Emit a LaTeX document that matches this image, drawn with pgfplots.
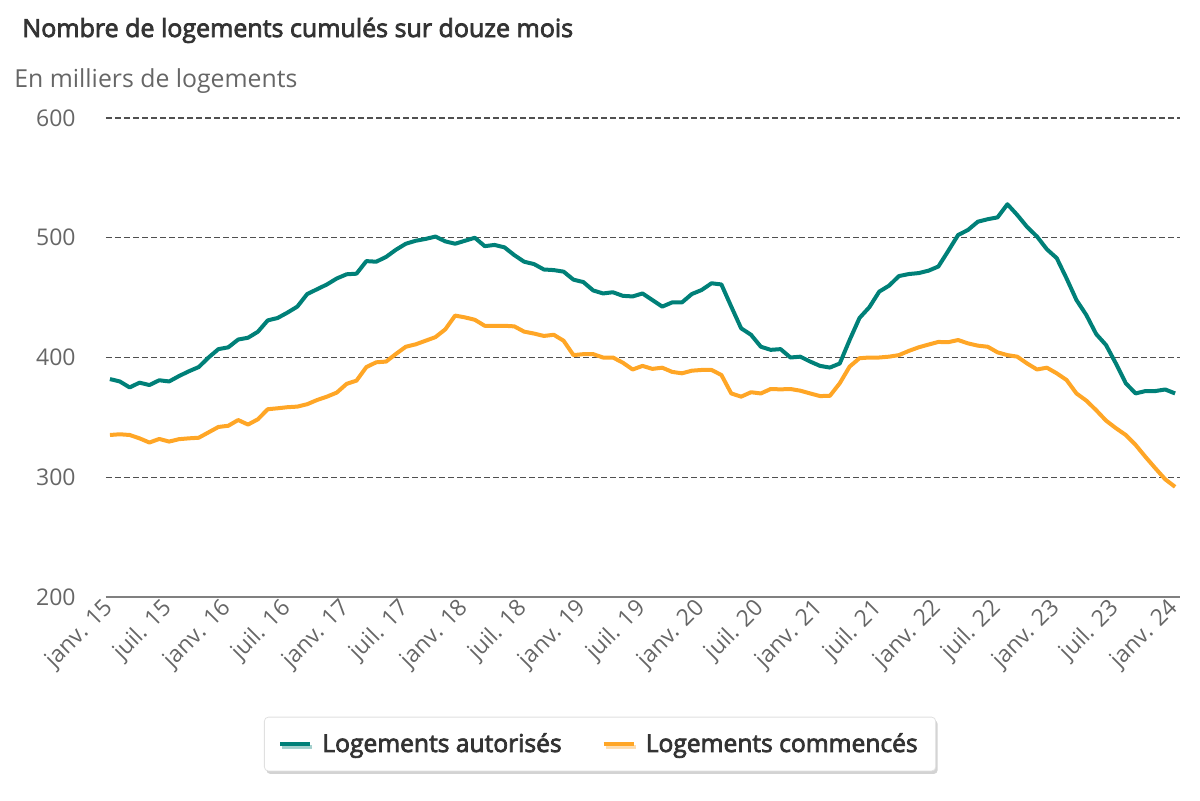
\documentclass[border=0pt]{standalone}
\usepackage{fontspec}
\setmainfont{Open Sans}
\newfontfamily\semib[FakeBold=3]{Open Sans}
\usepackage{pgfplots}
\pgfplotsset{compat=1.18}
\usetikzlibrary{shadows}

\definecolor{autor}{RGB}{0,128,120}
\definecolor{commen}{RGB}{255,166,38}
\definecolor{txtgrey}{RGB}{102,102,102}
\definecolor{txtdark}{RGB}{51,51,51}
\definecolor{gridgrey}{RGB}{80,80,80}

\begin{document}
\begin{tikzpicture}
% 1 px of the 1200x800 reference = 0.5pt
\useasboundingbox (-53pt,-101.5pt) rectangle (547pt,298.5pt);

\begin{axis}[
    at={(0,0)}, anchor=south west,
    scale only axis,
    width=537pt, height=239.5pt,
    xmin=-0.4, xmax=108.5,
    ymin=200, ymax=600,
    xtick={0,6,...,108},
    xticklabels={janv. 15,juil. 15,janv. 16,juil. 16,janv. 17,juil. 17,
        janv. 18,juil. 18,janv. 19,juil. 19,janv. 20,juil. 20,janv. 21,
        juil. 21,janv. 22,juil. 22,janv. 23,juil. 23,janv. 24},
    ytick={200,300,400,500,600},
    ymajorgrids,
    major grid style={gridgrey, dash pattern=on 3pt off 1.5pt, line width=0.6pt},
    axis x line*=bottom,
    axis y line*=left,
    y axis line style={draw=none},
    x axis line style={draw=gray, line width=1.2pt},
    major tick length=0pt,
    /pgf/number format/assume math mode=true,
    ticklabel style={font=\fontsize{11.5}{13}\selectfont, text=txtgrey},
    yticklabel style={inner sep=0pt, xshift=-15pt},
    xticklabel style={inner sep=0pt, xshift=0pt, yshift=-4pt, rotate=45, anchor=east},
    legend style={at={(0.46,-0.307)}, anchor=center,
        draw=black!12, fill=white, rounded corners=2pt,
        drop shadow={shadow xshift=1pt, shadow yshift=-1.5pt, opacity=0.35},
        font=\semib\fontsize{12.3}{14}\selectfont, text=txtdark,
        inner xsep=7pt, inner ysep=6pt,
        /tikz/every odd column/.append style={column sep=3pt},
        /tikz/every even column/.append style={column sep=18pt}},
    legend columns=2,
    legend image code/.code={
        \draw[#1, line width=2pt] (0pt,0pt) -- (15pt,0pt);},
]
\addplot[autor, line width=2pt, line join=round] coordinates {
(0,382) (1,380) (2,375) (3,379) (4,377) (5,381) (6,380) (7,384.5) (8,388.5) (9,392)
(10,400) (11,407) (12,408.5) (13,415) (14,416.5) (15,421.5) (16,431) (17,433) (18,437.5) (19,442.5)
(20,453) (21,457) (22,461) (23,466) (24,469.5) (25,470) (26,480.5) (27,480) (28,484) (29,490)
(30,495) (31,497.5) (32,499) (33,501) (34,497) (35,495) (36,497.5) (37,500) (38,493) (39,494)
(40,492) (41,485.5) (42,480) (43,478) (44,473.5) (45,473) (46,471.7) (47,465) (48,463) (49,456)
(50,453.5) (51,454.5) (52,451.5) (53,451) (54,453.5) (55,448) (56,442.5) (57,446) (58,446) (59,453)
(60,456.4) (61,462) (62,461) (63,442.5) (64,424.4) (65,419) (66,409) (67,406.4) (68,407) (69,400)
(70,400.7) (71,396.6) (72,393) (73,391.6) (74,395) (75,414.6) (76,433) (77,442) (78,455) (79,460)
(80,468) (81,469.7) (82,470.5) (83,472.5) (84,476) (85,489) (86,502.3) (87,506.5) (88,513.4) (89,515.5)
(90,517) (91,528) (92,519) (93,509) (94,501) (95,490.4) (96,483) (97,466) (98,448) (99,435.5)
(100,419.6) (101,410.4) (102,395) (103,378.5) (104,370) (105,372) (106,372) (107,373.3) (108,370)
};
\addlegendentry{Logements autorisés}
\addplot[commen, line width=2pt, line join=round] coordinates {
(0,335.3) (1,335.9) (2,335.3) (3,332.5) (4,329) (5,332) (6,329.8) (7,331.8) (8,332.5) (9,333)
(10,337.5) (11,342) (12,343) (13,347.8) (14,344) (15,348.4) (16,356.8) (17,357.6) (18,358.5) (19,359)
(20,361) (21,364.5) (22,367.3) (23,370.7) (24,378) (25,380.7) (26,392) (27,396) (28,396.6) (29,403)
(30,409) (31,411) (32,414) (33,417) (34,423.5) (35,435) (36,433.5) (37,431.5) (38,426.5) (39,426.5)
(40,426.5) (41,426) (42,421.6) (43,420) (44,418) (45,419) (46,414) (47,402) (48,402.8) (49,402.8)
(50,400) (51,400) (52,395.7) (53,390) (54,393) (55,390.5) (56,391.5) (57,388) (58,386.8) (59,389)
(60,389.6) (61,389.6) (62,385.4) (63,370) (64,367.3) (65,371) (66,370) (67,373.7) (68,373.4) (69,373.7)
(70,372.3) (71,370) (72,367.8) (73,368) (74,378.5) (75,392.4) (76,399.4) (77,400) (78,400) (79,400.7)
(80,402) (81,405.5) (82,408.5) (83,410.8) (84,413) (85,412.8) (86,414.6) (87,411.8) (88,409.9) (89,409)
(90,404.3) (91,402) (92,400.7) (93,395) (94,390) (95,391.5) (96,386.8) (97,381.2) (98,370) (99,364)
(100,356) (101,347.3) (102,341) (103,335.3) (104,327) (105,317) (106,307.5) (107,298.3) (108,292)
};
\addlegendentry{Logements commencés}
\end{axis}

\node[anchor=base west, inner sep=0pt, text=txtdark, font=\semib\fontsize{12.5}{15}\selectfont]
    at (-42pt,280pt) {Nombre de logements cumulés sur douze mois};
\node[anchor=base west, inner sep=0pt, text=txtgrey, font=\fontsize{12.4}{15}\selectfont]
    at (-46pt,255pt) {En milliers de logements};
\end{tikzpicture}
\end{document}
